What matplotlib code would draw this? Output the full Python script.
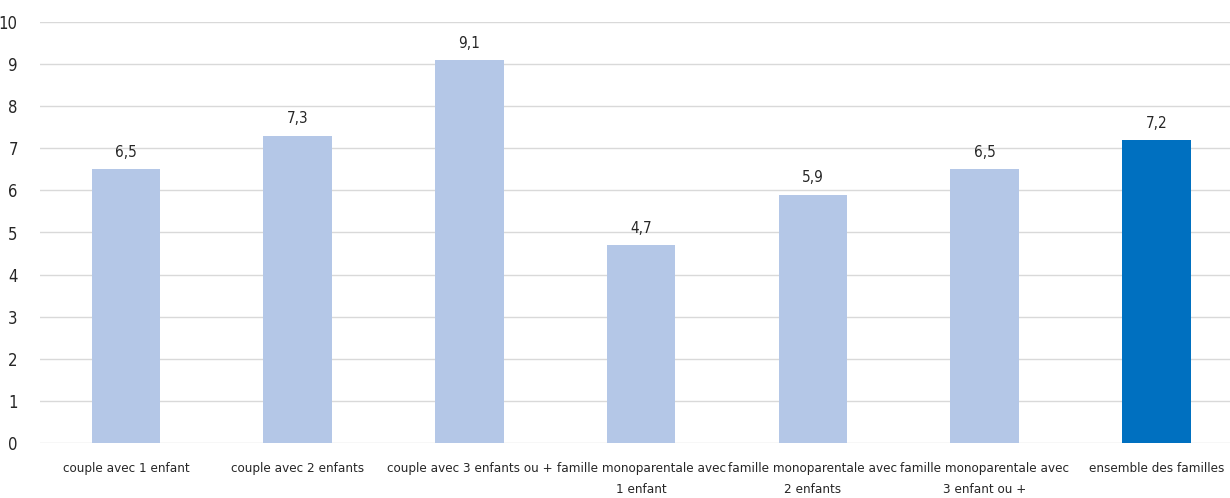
import matplotlib.pyplot as plt

plt.rcParams['font.family'] = 'DejaVu Sans'
plt.rcParams['font.stretch'] = 'condensed'

categories = ['couple avec 1 enfant', 'couple avec 2 enfants', 'couple avec 3 enfants ou +',
              'famille monoparentale avec\n1 enfant', 'famille monoparentale avec\n2 enfants',
              'famille monoparentale avec\n3 enfant ou +', 'ensemble des familles']
values = [6.5, 7.3, 9.1, 4.7, 5.9, 6.5, 7.2]
colors = ['#b4c7e7'] * 6 + ['#0070c0']

fig = plt.figure(figsize=(12.3, 4.98), dpi=100)
ax = fig.add_axes([40 / 1230, (498 - 443) / 498, 1190 / 1230, 421 / 498])

x = range(len(values))
ax.bar(x, values, width=0.4, color=colors, zorder=2)
for i, v in zip(x, values):
    ax.text(i, v + 0.22, f'{v:.1f}'.replace('.', ','), ha='center', va='bottom',
            fontsize=11, color='#262626')

ax.set_xlim(-0.5, -0.5 + 1190 / 171.75)
ax.set_ylim(0, 10)
ax.set_yticks(range(11))
ax.grid(axis='y', color='#d9d9d9', linewidth=1, zorder=0)
ax.set_xticks(list(x))
ax.set_xticklabels(categories, fontsize=9.6, color='#262626', linespacing=1.75)
ax.tick_params(axis='y', labelsize=12, labelcolor='#262626', length=0, pad=16)
ax.tick_params(axis='x', length=0, pad=14)
for s in ax.spines.values():
    s.set_visible(False)

fig.savefig('out.png', dpi=100)
